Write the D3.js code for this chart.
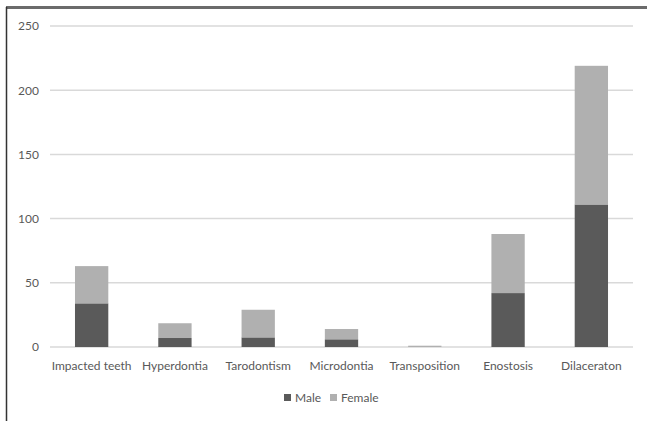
<!DOCTYPE html>
<html><head><meta charset="utf-8">
<script src="https://cdn.jsdelivr.net/npm/d3@7"></script>
<style>body{margin:0;background:#fff}svg{display:block}text{font-family:Lato,"Open Sans",sans-serif;fill:#595959}</style>
</head><body>
<script>
const categories = ["Impacted teeth","Hyperdontia","Tarodontism","Microdontia","Transposition","Enostosis","Dilaceraton"];
const male = [34, 7, 7.5, 6, 0, 42, 111];
const female = [29, 11.5, 21.5, 8, 1, 46, 108];
const seriesNames = ["Male","Female"];
const colors = ["#5a5a5a","#b0b0b0"];
const yTicks = [0,50,100,150,200,250];

const W=647,H=421;
const svg=d3.select("body").append("svg").attr("width",W).attr("height",H);
svg.append("rect").attr("width",W).attr("height",H).attr("fill","#fff");
// frame (top and left edges visible)
svg.append("line").attr("x1",6).attr("x2",W).attr("y1",7.5).attr("y2",7.5).attr("stroke","#6b6b6b").attr("stroke-width",3);
svg.append("line").attr("x1",6.5).attr("x2",6.5).attr("y1",7).attr("y2",H).attr("stroke","#333").attr("stroke-width",1.5);

const x=d3.scaleBand().domain(categories).range([50,633]).paddingInner(0.6).paddingOuter(0.3);
const y=d3.scaleLinear().domain([0,250]).range([347,26]);

// gridlines
svg.append("g").selectAll("line").data(yTicks).join("line")
  .attr("x1",50).attr("x2",633).attr("y1",d=>y(d)).attr("y2",d=>y(d))
  .attr("stroke","#d9d9d9").attr("stroke-width",1.5);

const yAxis=svg.append("g").attr("transform","translate(45,0)")
  .call(d3.axisLeft(y).tickValues(yTicks).tickSize(0).tickPadding(6));
yAxis.select(".domain").remove();
yAxis.selectAll("text").style("font-size","12px").style("fill","#595959").style("font-family","Lato");

const data=categories.map((c,i)=>({cat:c,Male:male[i],Female:female[i]}));
const stack=d3.stack().keys(seriesNames)(data);
svg.append("g").selectAll("g").data(stack).join("g").attr("fill",(d,i)=>colors[i])
  .selectAll("rect").data(d=>d).join("rect")
  .attr("x",d=>x(d.data.cat)).attr("width",x.bandwidth())
  .attr("y",d=>y(d[1])).attr("height",d=>y(d[0])-y(d[1]));

const xAxis=svg.append("g").attr("transform","translate(0,347)")
  .call(d3.axisBottom(x).tickSize(0).tickPadding(14));
xAxis.select(".domain").remove();
xAxis.selectAll("text").style("font-size","12px").style("fill","#595959").style("font-family","Lato");

// legend
const leg=svg.append("g");
const legX=[284,330];
seriesNames.forEach((n,i)=>{
  leg.append("rect").attr("x",legX[i]).attr("y",394).attr("width",7).attr("height",7).attr("fill",colors[i]);
  leg.append("text").attr("x",legX[i]+11).attr("y",398).attr("dy","0.35em").style("font-size","12px").text(n);
});
</script>
</body></html>
